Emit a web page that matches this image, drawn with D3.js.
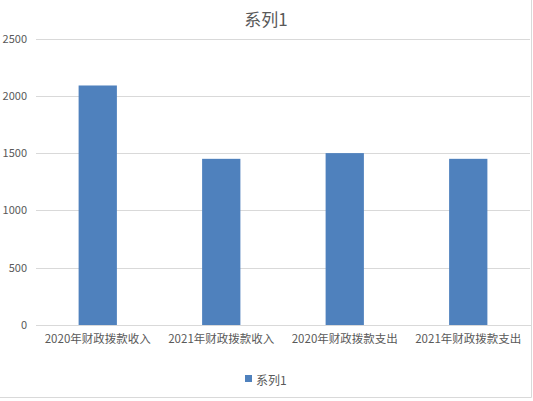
<!DOCTYPE html>
<html><head><meta charset="utf-8">
<script src="https://cdn.jsdelivr.net/npm/d3@7"></script>
<style>body{margin:0;background:#fff}svg{display:block}</style>
</head><body>
<svg id="c" width="533" height="401"></svg>
<script>
const categories = ["2020年财政拨款收入","2021年财政拨款收入","2020年财政拨款支出","2021年财政拨款支出"];
const values = [2090, 1450, 1500, 1450];
const yTicks = [0, 500, 1000, 1500, 2000, 2500];
const seriesName = "系列1";
const titleText = "系列1";

(function () {
const font = "'Noto Sans CJK SC', 'Noto Sans', sans-serif";
const svg = d3.select("#c");
const W = 533, H = 401;
svg.append("rect").attr("width", W).attr("height", H).attr("fill", "#fff");
svg.append("line").attr("x1", 531.5).attr("x2", 531.5).attr("y1", 0).attr("y2", 397.5).attr("stroke", "#d9d9d9");
svg.append("line").attr("x1", 0).attr("x2", 531.5).attr("y1", 397.5).attr("y2", 397.5).attr("stroke", "#d9d9d9");

const mLeft = 36, mRight = 530, mTop = 38.5, mBottom = 325;
const x = d3.scaleBand().domain(categories).range([mLeft, mRight]).paddingInner(0.69).paddingOuter(0.345);
const y = d3.scaleLinear().domain([0, 2500]).range([mBottom, mTop]);

const yAxis = d3.axisLeft(y).tickValues(yTicks).tickSize(-(mRight - mLeft)).tickPadding(9).tickFormat(d3.format("d"));
const gy = svg.append("g").attr("transform", `translate(${mLeft},0)`).call(yAxis);
gy.select(".domain").remove();
gy.selectAll(".tick line").attr("stroke", "#d9d9d9").attr("shape-rendering", "crispEdges");
gy.selectAll(".tick text").attr("fill", "#595959").attr("font-size", "11px").attr("font-family", font);

svg.append("g").selectAll("rect").data(values).join("rect")
  .attr("x", (d, i) => x(categories[i]))
  .attr("width", x.bandwidth())
  .attr("y", d => y(d))
  .attr("height", d => y(0) - y(d))
  .attr("fill", "#4f81bd");

const xAxis = d3.axisBottom(x).tickSize(0).tickPadding(10);
const gx = svg.append("g").attr("transform", `translate(0,${mBottom})`).call(xAxis);
gx.select(".domain").attr("stroke", "#d9d9d9").attr("shape-rendering", "crispEdges");
gx.selectAll(".tick text").attr("fill", "#595959").attr("font-size", "11.5px").attr("font-family", font);

svg.append("text").attr("x", 266).attr("y", 26).attr("text-anchor", "middle")
  .attr("fill", "#595959").attr("font-size", "17px").attr("font-family", font).text(titleText);

const lg = svg.append("g");
lg.append("rect").attr("x", 245).attr("y", 375).attr("width", 7).attr("height", 7).attr("fill", "#4f81bd");
lg.append("text").attr("x", 256).attr("y", 384.5).attr("fill", "#595959").attr("font-size", "12px").attr("font-family", font).text(seriesName);
})();
</script>
</body></html>
